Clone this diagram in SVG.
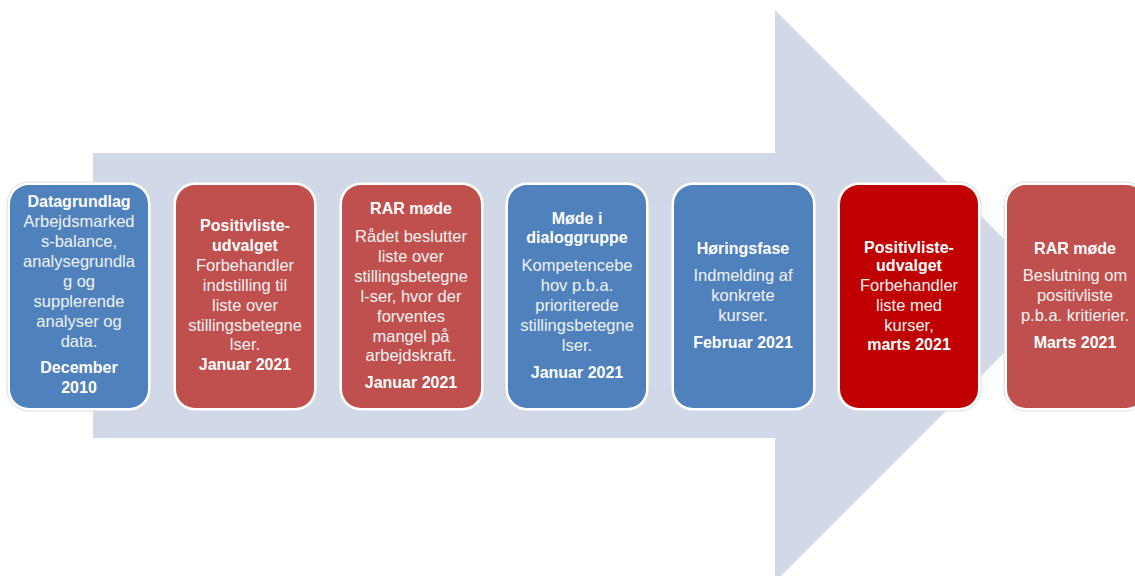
<svg xmlns="http://www.w3.org/2000/svg" width="1135" height="576" viewBox="0 0 1135 576">
<style>
.frame{fill:#FFFFFF;stroke:#D4D4D4;stroke-width:0.8}
.blue{fill:#4F81BD}
.red{fill:#C0504D}
.dred{fill:#C00000}
text{font-family:"Liberation Sans",Arial,sans-serif;text-anchor:middle}
.t{font-size:16px;font-weight:bold;fill:#FFFFFF}
.b{font-size:16.5px;fill:#F2F2F2}
</style>
<rect width="1135" height="576" fill="#FFFFFF"/>
<g id="arrow">
<polygon points="93,153 775,153 775,10 1061,296 775,582 775,438 93,438" fill="#D1D9E8"/>
</g>
<g id="connectors"></g>
<g id="node1">
<rect class="frame" x="7" y="182" width="144" height="229" rx="22"/>
<rect class="blue" x="10" y="185" width="138" height="223" rx="19"/>
<text class="t" x="79" y="207">Datagrundlag</text>
<text class="b" x="79" y="227">Arbejdsmarked</text>
<text class="b" x="79" y="247">s-balance,</text>
<text class="b" x="79" y="267">analysegrundla</text>
<text class="b" x="79" y="287">g og</text>
<text class="b" x="79" y="307">supplerende</text>
<text class="b" x="79" y="327">analyser og</text>
<text class="b" x="79" y="347">data.</text>
<text class="t" x="79" y="373">December</text>
<text class="t" x="79" y="393">2010</text>
</g>
<g id="node2">
<rect class="frame" x="173" y="182" width="144" height="229" rx="22"/>
<rect class="red" x="176" y="185" width="138" height="223" rx="19"/>
<text class="t" x="245" y="231">Positivliste-</text>
<text class="t" x="245" y="251">udvalget</text>
<text class="b" x="245" y="271">Forbehandler</text>
<text class="b" x="245" y="291">indstilling til</text>
<text class="b" x="245" y="311">liste over</text>
<text class="b" x="245" y="331">stillingsbetegne</text>
<text class="b" x="245" y="350">lser.</text>
<text class="t" x="245" y="370">Januar 2021</text>
</g>
<g id="node3">
<rect class="frame" x="339" y="182" width="145" height="229" rx="22"/>
<rect class="red" x="342" y="185" width="139" height="223" rx="19"/>
<text class="t" x="411" y="214">RAR møde</text>
<text class="b" x="411" y="242">Rådet beslutter</text>
<text class="b" x="411" y="262">liste over</text>
<text class="b" x="411" y="282">stillingsbetegne</text>
<text class="b" x="411" y="302">l-ser, hvor der</text>
<text class="b" x="411" y="322">forventes</text>
<text class="b" x="411" y="342">mangel på</text>
<text class="b" x="411" y="361">arbejdskraft.</text>
<text class="t" x="411" y="388">Januar 2021</text>
</g>
<g id="node4">
<rect class="frame" x="505" y="182" width="144" height="229" rx="22"/>
<rect class="blue" x="508" y="185" width="138" height="223" rx="19"/>
<text class="t" x="577" y="224">Møde i</text>
<text class="t" x="577" y="243">dialoggruppe</text>
<text class="b" x="577" y="271">Kompetencebe</text>
<text class="b" x="577" y="291">hov p.b.a.</text>
<text class="b" x="577" y="311">prioriterede</text>
<text class="b" x="577" y="331">stillingsbetegne</text>
<text class="b" x="577" y="351">lser.</text>
<text class="t" x="577" y="378">Januar 2021</text>
</g>
<g id="node5">
<rect class="frame" x="671" y="182" width="145" height="229" rx="22"/>
<rect class="blue" x="674" y="185" width="139" height="223" rx="19"/>
<text class="t" x="743" y="254">Høringsfase</text>
<text class="b" x="743" y="281">Indmelding af</text>
<text class="b" x="743" y="301">konkrete</text>
<text class="b" x="743" y="321">kurser.</text>
<text class="t" x="743" y="348">Februar 2021</text>
</g>
<g id="node6">
<rect class="frame" x="837" y="182" width="144" height="229" rx="22"/>
<rect class="dred" x="840" y="185" width="138" height="223" rx="19"/>
<text class="t" x="909" y="253">Positivliste-</text>
<text class="t" x="909" y="271">udvalget</text>
<text class="b" x="909" y="291">Forbehandler</text>
<text class="b" x="909" y="311">liste med</text>
<text class="b" x="909" y="331">kurser,</text>
<text class="t" x="909" y="350">marts 2021</text>
</g>
<g id="node7">
<rect class="frame" x="1004" y="182" width="144" height="229" rx="22"/>
<rect class="red" x="1007" y="185" width="138" height="223" rx="19"/>
<text class="t" x="1075" y="254">RAR møde</text>
<text class="b" x="1075" y="281">Beslutning om</text>
<text class="b" x="1075" y="301">positivliste</text>
<text class="b" x="1075" y="321">p.b.a. kritierier.</text>
<text class="t" x="1075" y="348">Marts 2021</text>
</g>
</svg>
